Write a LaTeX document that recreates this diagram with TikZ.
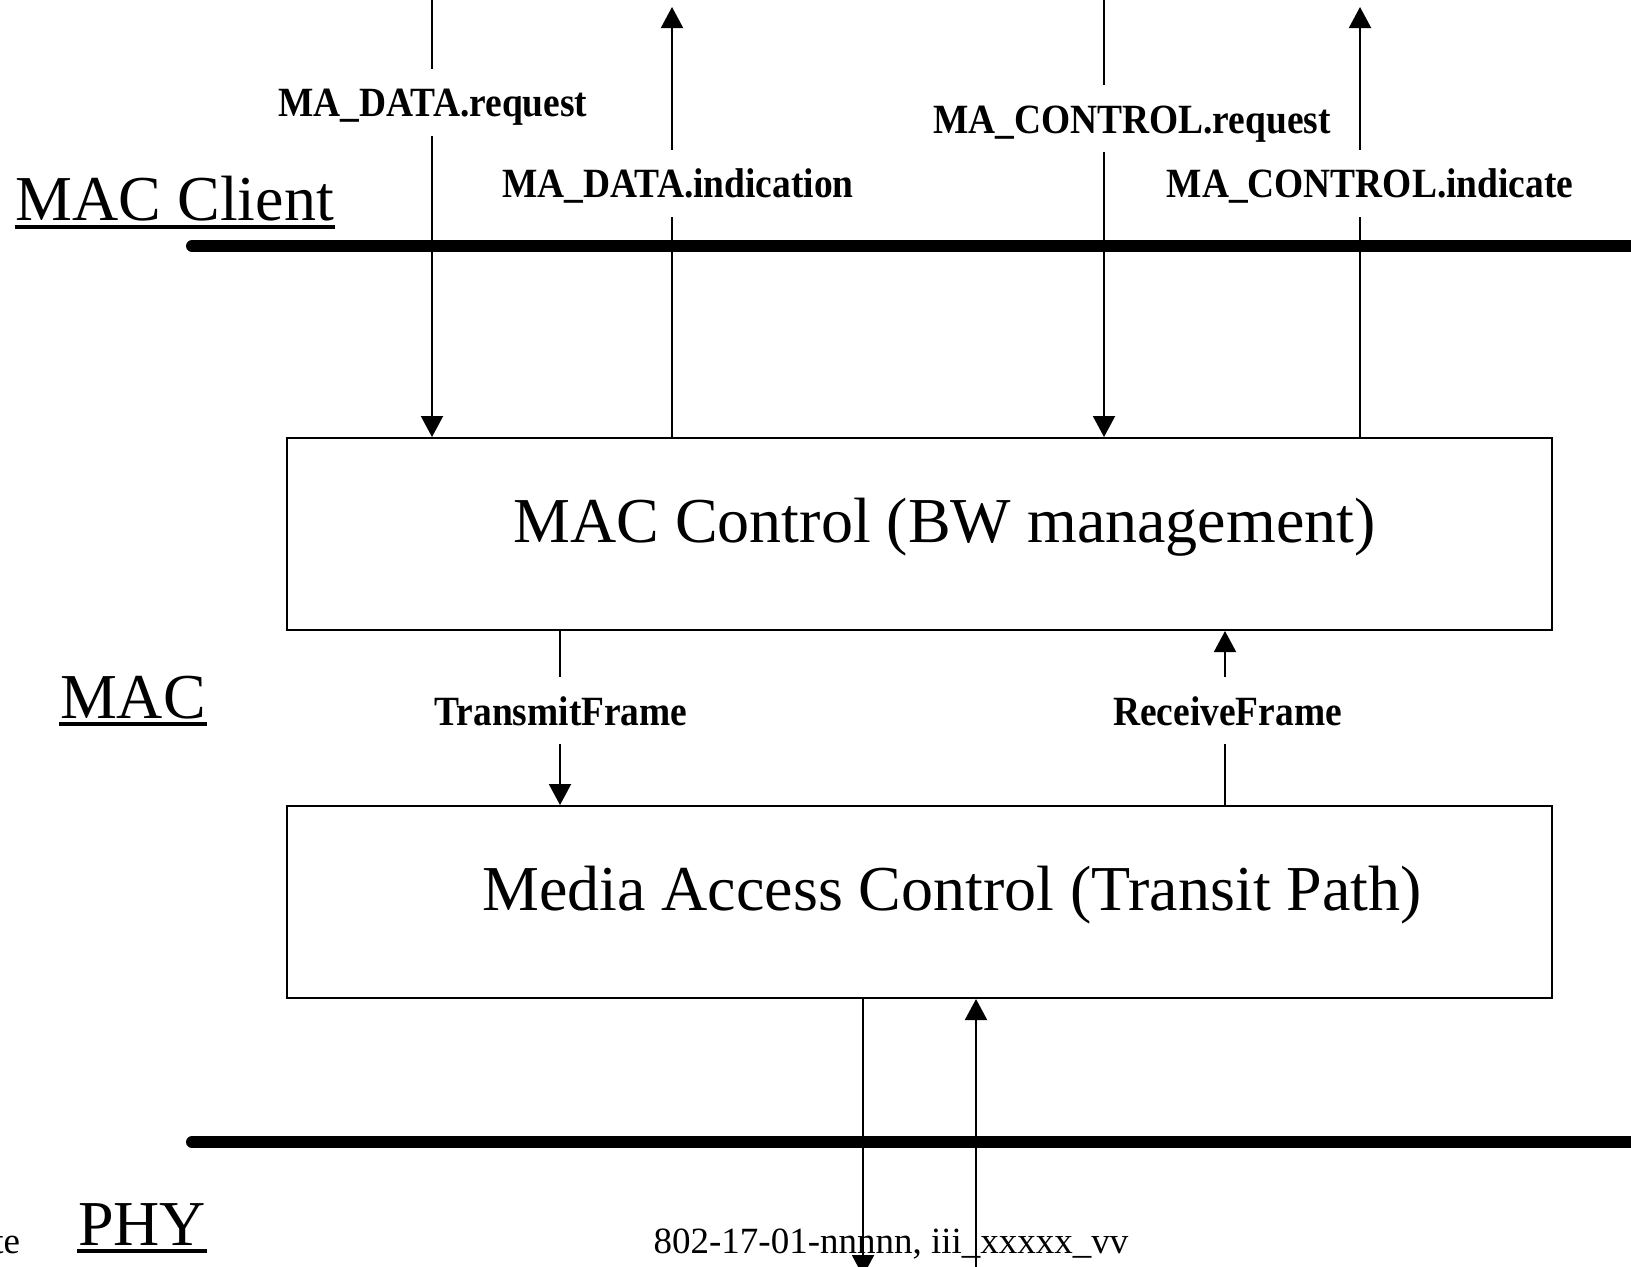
\documentclass[tikz,border=0pt]{standalone}
\usepackage{fontspec}
\setmainfont{Liberation Serif}
\newfontfamily\lblfont[FakeStretch=0.9]{Liberation Serif}
\usetikzlibrary{arrows.meta,calc}

\begin{document}
\begin{tikzpicture}[x=0.5pt, y=-0.5pt, line width=1pt,
    >={Triangle[length=10.5pt,width=11pt]},
    layer/.style={line width=6pt, line cap=round},
    block/.style={draw, minimum width=632.5pt, minimum height=96pt, inner sep=0pt},
    big/.style={inner sep=0pt, anchor=base, font=\fontsize{32}{38}\selectfont},
    side/.style={inner sep=0pt, anchor=base west, font=\fontsize{32}{38}\selectfont},
    uline/.style={line width=2pt},
    sig/.style={fill=white, anchor=base, inner xsep=2pt, inner ysep=7pt, text height=17pt, text depth=2.5pt,
                font=\lblfont\bfseries\fontsize{20.8}{24}\selectfont},
    foot/.style={inner sep=0pt, anchor=base, font=\fontsize{18.5}{22}\selectfont}]
  \useasboundingbox (0,0) rectangle (1631,1266);

  % layer boundaries
  \coordinate (clientl) at (192,246);
  \coordinate (clientr) at (1645,246);
  \coordinate (phyl) at (192,1142);
  \coordinate (phyr) at (1645,1142);
  \draw[layer] (clientl) -- (clientr);
  \draw[layer] (phyl) -- (phyr);

  % layer names
  \node[side] (client) at (14.6,220.5) {MAC Client};
  \node[side] (mac)    at (59,718)     {MAC};
  \node[side] (phy)    at (77,1245)    {PHY};
  \draw[uline] ([yshift=-3.2pt]client.base west) -- ([yshift=-3.2pt]client.base east);
  \draw[uline] ([yshift=-3.2pt]mac.base west) -- ([yshift=-3.2pt]mac.base east);
  \draw[uline] ([yshift=-3.2pt]phy.base west) -- ([yshift=-3.2pt]phy.base east);

  % sublayers
  \node[block] (macctrl) at (919.5,534) {};
  \node[block] (macpath) at (919.5,902) {};
  \node[big] (ctrltext) at (944.5,542) {MAC Control (BW management)};
  \node[big] (pathtext) at (952,910)   {Media Access Control (Transit Path)};

  % service primitives
  \coordinate (dreqtop) at (432,-5);
  \coordinate (dindtop) at (672,7);
  \coordinate (creqtop) at (1104,-5);
  \coordinate (cindtop) at (1360,7);
  \coordinate (tx) at (560,700);
  \coordinate (rx) at (1225,700);
  \coordinate (phydn) at (863,1276);
  \coordinate (phyup) at (976,1272);
  \draw[->] (dreqtop) -- (dreqtop |- macctrl.north);
  \draw[->] (macctrl.north -| dindtop) -- (dindtop);
  \draw[->] (creqtop) -- (creqtop |- macctrl.north);
  \draw[->] (macctrl.north -| cindtop) -- (cindtop);
  \draw[->] (macctrl.south -| tx) -- (macpath.north -| tx);
  \draw[->] (macpath.north -| rx) -- (macctrl.south -| rx);
  \draw[->] (macpath.south -| phydn) -- (phydn);
  \draw[->] (phyup) -- (phyup |- macpath.south);

  \node[sig] (dreq) at (433,116.5)  {MA\_DATA.request};
  \node[sig] (dind) at (678,197.6)  {MA\_DATA.indication};
  \node[sig] (creq) at (1132,133)   {MA\_CONTROL.request};
  \node[sig] (cind) at (1370,197.6) {MA\_CONTROL.indicate};
  \node[sig] (txf)  at (561,725)    {TransmitFrame};
  \node[sig] (rxf)  at (1227.5,725) {ReceiveFrame};

  % footer
  \node[foot] (docid) at (891,1253) {802-17-01-nnnnn, iii\_xxxxx\_vv};
  \node[foot, anchor=base east] (date) at (21,1253) {te};
\end{tikzpicture}
\end{document}
